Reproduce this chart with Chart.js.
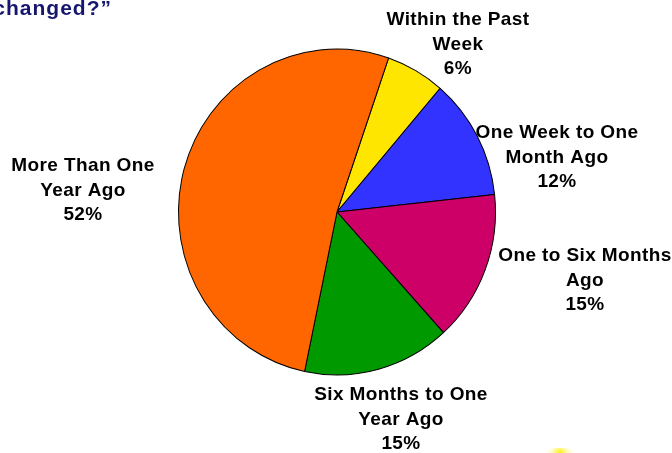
<!DOCTYPE html>
<html>
<head>
<meta charset="utf-8">
<script src="https://cdn.jsdelivr.net/npm/chart.js@4"></script>
<style>
  body { margin: 0; background: #fff; }
  canvas { display: block; }
</style>
</head>
<body>
<canvas id="pieChart" width="672" height="453"></canvas>
<script>
const categories = [
    'Within the Past Week',
    'One Week to One Month Ago',
    'One to Six Months Ago',
    'Six Months to One Year Ago',
    'More Than One Year Ago'
];
const percents = [6, 12, 15, 15, 52];
const labelLines = [
    ['Within the Past', 'Week'],
    ['One Week to One', 'Month Ago'],
    ['One to Six Months', 'Ago'],
    ['Six Months to One', 'Year Ago'],
    ['More Than One', 'Year Ago']
];
const colors = ['#FFE600', '#3333FF', '#CC0066', '#009900', '#FF6600'];

// where each label block sits (centre x, first baseline y)
const labelPos = [
    [458, 25], [557, 138], [585, 261], [401, 400], [83, 171]
];

// the original pie is a touch taller than wide
const stretch = {
    id: 'stretch',
    beforeDatasetsDraw(chart) {
        const c = chart.ctx, cy = 212;
        c.save();
        c.translate(0, cy);
        c.scale(1, 1.028);
        c.translate(0, -cy);
    },
    afterDatasetsDraw(chart) {
        chart.ctx.restore();
    }
};

const textPlugin = {
    id: 'pptText',
    afterDraw(chart) {
        const c = chart.ctx;
        c.save();
        // cut-off title at the top left
        c.font = 'bold 21px "Liberation Sans", Arial, sans-serif';
        c.letterSpacing = '1px';
        c.fillStyle = '#16166E';
        c.textAlign = 'right';
        c.textBaseline = 'alphabetic';
        c.fillText('changed?\u201D', 112, 15);

        c.font = 'bold 19px "Liberation Sans", Arial, sans-serif';
        c.letterSpacing = '0.4px';
        c.fillStyle = '#000';
        c.textAlign = 'center';
        labelLines.forEach((lines, i) => {
            const all = lines.concat([percents[i] + '%']);
            const [x, y] = labelPos[i];
            all.forEach((t, k) => c.fillText(t, x, y + k * 24.5));
        });

        // faint yellow smudge bottom right
        const g = c.createRadialGradient(560, 453, 0, 560, 453, 16);
        g.addColorStop(0, 'rgba(255,240,0,1)');
        g.addColorStop(1, 'rgba(255,255,255,0)');
        c.fillStyle = g;
        c.beginPath();
        c.ellipse(560, 453, 16, 5, 0, 0, Math.PI * 2);
        c.fill();
        c.restore();
    }
};

const ctx = document.getElementById('pieChart').getContext('2d');

const pieChart = new Chart(ctx, {
    type: 'pie',
    data: {
        labels: categories,
        datasets: [{
            data: percents,
            backgroundColor: colors,
            borderColor: '#000',
            borderWidth: 1
        }]
    },
    options: {
        responsive: false,
        animation: false,
        rotation: 19,
        layout: {
            padding: { left: 178, right: 176, top: 53, bottom: 82 }
        },
        plugins: {
            legend: { display: false },
            tooltip: { enabled: false }
        }
    },
    plugins: [stretch, textPlugin]
});
</script>
</body>
</html>
